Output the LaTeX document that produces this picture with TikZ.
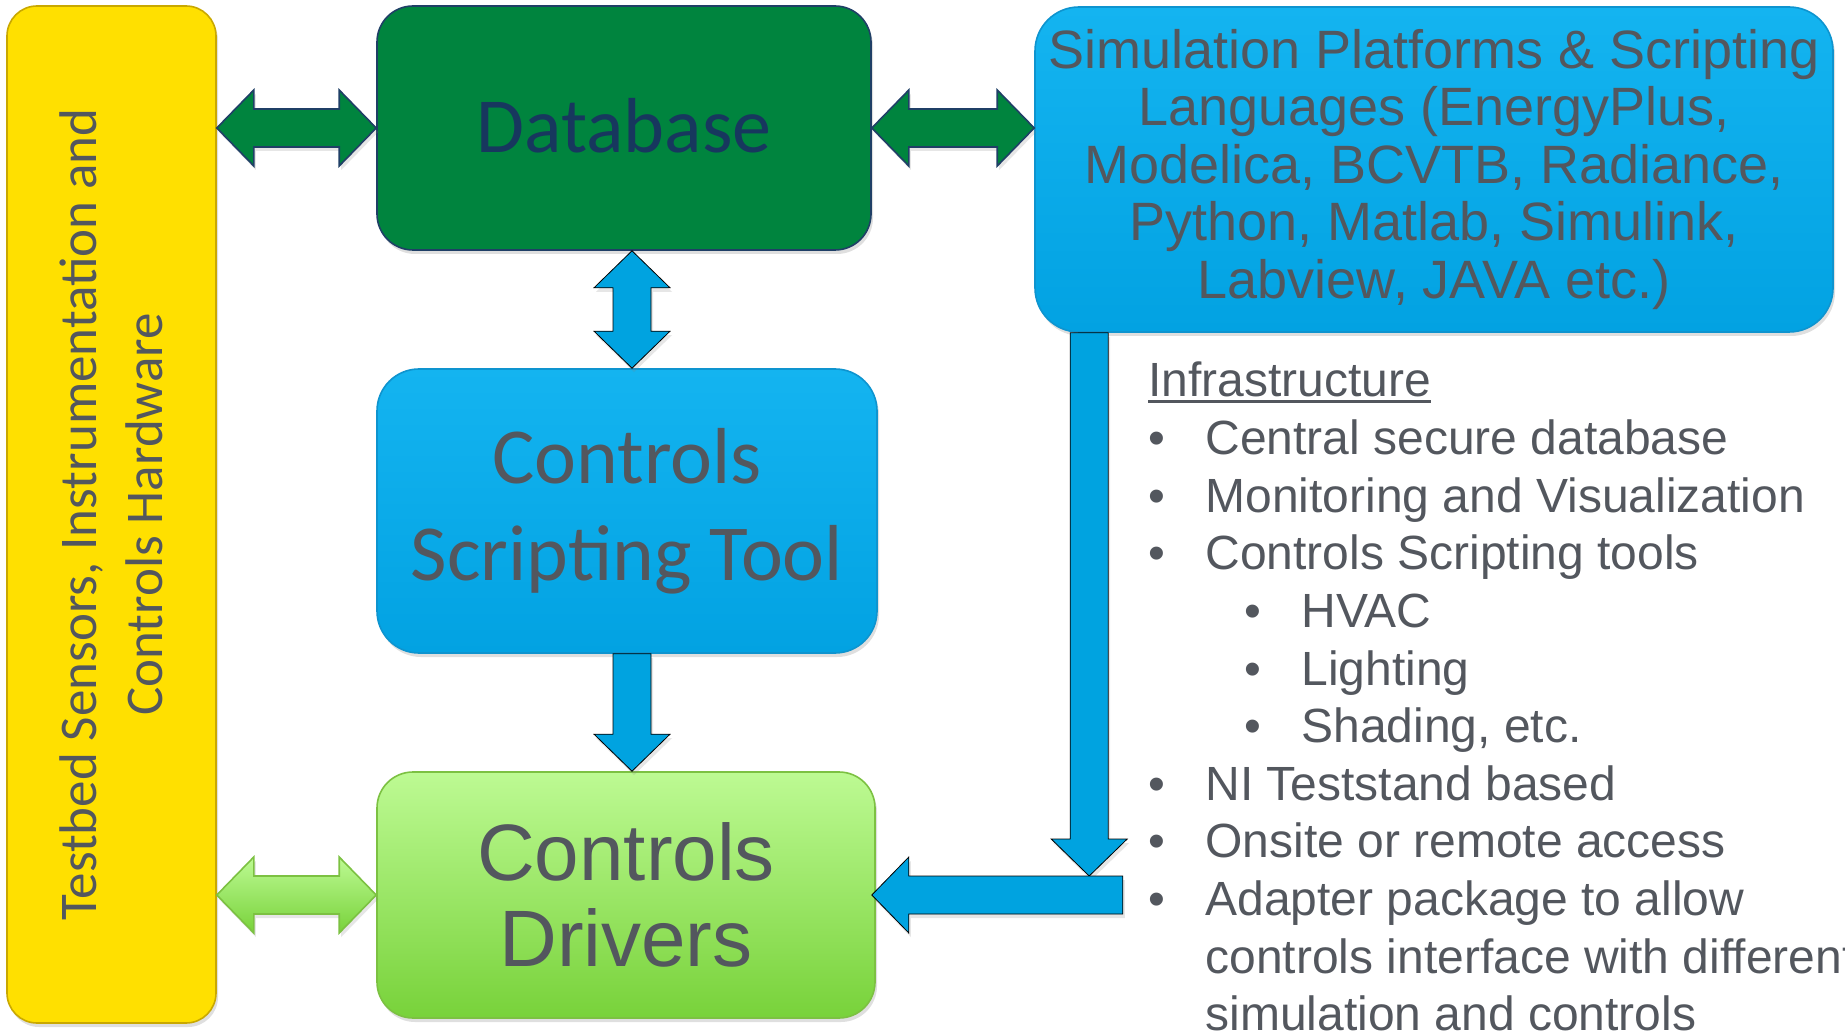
\documentclass[tikz,border=0pt]{standalone}
\usepackage{fontspec}
\setmainfont{Liberation Sans}
\newfontfamily\calibri{Carlito}
\usepackage{tikz}
\usetikzlibrary{calc,shadows}
\definecolor{txtgray}{HTML}{53575E}
\definecolor{dbgreen}{HTML}{00843E}
\definecolor{dbnavy}{HTML}{1F3F66}
\definecolor{dbtext}{HTML}{17375E}
\definecolor{skytop}{HTML}{14B4F0}
\definecolor{skybot}{HTML}{02A2E2}
\definecolor{skyedge}{HTML}{0E94CF}
\definecolor{arrowblue}{HTML}{00A3E0}
\definecolor{testyellow}{HTML}{FFE000}
\definecolor{yelledge}{HTML}{C9A800}
\definecolor{limetop}{HTML}{BDFA93}
\definecolor{limebot}{HTML}{78D23A}
\definecolor{limeedge}{HTML}{7CC142}

\tikzset{
  box/.style={rounded corners=18pt, line width=0.8pt, inner sep=0pt,
    text=txtgray, drop shadow={opacity=0.25, shadow xshift=1pt, shadow yshift=-2pt}},
  grnarrow/.style={fill=dbgreen, draw=dbnavy, line width=0.8pt,
    drop shadow={opacity=0.2, shadow xshift=1pt, shadow yshift=-2pt}},
  limearrow/.style={top color=limetop, bottom color=limebot, draw=limeedge, line width=0.8pt,
    drop shadow={opacity=0.2, shadow xshift=1pt, shadow yshift=-2pt}},
  bluearrow/.style={fill=arrowblue,
    drop shadow={opacity=0.2, shadow xshift=1pt, shadow yshift=-2pt}},
  item/.style={anchor=base west, inner sep=0pt, text=txtgray,
    font=\fontsize{24}{28.8}\selectfont}
}

\begin{document}
\begin{tikzpicture}[x=0.5pt, y=-0.5pt]

  \useasboundingbox (0,0) rectangle (1845,1031);
  \clip (0,0) rectangle (1845,1031);

  \newcommand\AW{19}   % half shaft
  \newcommand\AH{38}   % half head
  \newcommand\AL{37}   % head length
  \newcommand\LS{57.6} % list line step

  \newcommand\blkdbh[3]{\draw[#1] (#2) -- ++(\AL,-\AH) -- ++(0,\AH-\AW)
    -- ($(#3)+(-\AL,-\AW)$) -- ++(0,\AW-\AH) -- (#3) -- ++(-\AL,\AH)
    -- ++(0,\AW-\AH) -- ($(#2)+(\AL,\AW)$) -- ++(0,\AH-\AW) -- cycle;}
  \newcommand\blkdbv[3]{\draw[#1] (#2) -- ++(\AH,\AL) -- ++(\AW-\AH,0)
    -- ($(#3)+(\AW,-\AL)$) -- ++(\AH-\AW,0) -- (#3) -- ++(-\AH,-\AL)
    -- ++(\AH-\AW,0) -- ($(#2)+(-\AW,\AL)$) -- ++(\AW-\AH,0) -- cycle;}
  \newcommand\blkdown[3]{\draw[#1] ($(#2)+(-\AW,0)$) -- ($(#3)+(-\AW,-\AL)$)
    -- ++(\AW-\AH,0) -- (#3) -- ++(\AH,-\AL) -- ++(\AW-\AH,0)
    -- ($(#2)+(\AW,0)$) -- cycle;}
  \newcommand\blkleft[3]{\draw[#1] ($(#2)+(0,-\AW)$) -- ($(#3)+(\AL,-\AW)$)
    -- ++(0,\AW-\AH) -- (#3) -- ++(\AL,\AH) -- ++(0,\AW-\AH)
    -- ($(#2)+(0,\AW)$) -- cycle;}

  \newcommand\bul{\makebox[28.5pt][l]{\textbullet}}
  \newcommand\sbul{\hspace*{48pt}\bul}
  \newcommand\ulined[1]{\setbox0\hbox{#1}\rlap{\rule[-2.8pt]{\wd0}{1.4pt}}\box0}

  %% boxes
  \node[box, draw=yelledge, fill=testyellow, rotate=90, rounded corners=15pt,
    minimum width=508.5pt, minimum height=104.5pt, align=center,
    font=\calibri\fontsize{26.5}{33}\selectfont] (tb) at (111.5,514.5)
    {Testbed Sensors, Instrumentation and\\Controls Hardware};

  \node[box, draw=dbnavy, fill=dbgreen, minimum width=247pt, minimum height=122pt,
    text=dbtext, font=\calibri\fontsize{39}{47}\selectfont] (db) at (624,128)
    {\raisebox{2.5pt}{Database}};

  \node[box, rounded corners=22pt, draw=skyedge, top color=skytop, bottom color=skybot,
    minimum width=399pt, minimum height=162.5pt, align=center,
    font=\fontsize{27}{28.75}\selectfont] (sim) at (1434,169.5)
    {Simulation Platforms \& Scripting\\Languages (EnergyPlus,\\Modelica, BCVTB, Radiance,\\Python, Matlab, Simulink,\\Labview, JAVA etc.)};

  \node[box, rounded corners=21pt, draw=skyedge, top color=skytop, bottom color=skybot,
    minimum width=250pt, minimum height=142pt, align=center,
    font=\calibri\fontsize{39.7}{48.5}\selectfont] (cst) at (627,511)
    {Controls\\Scripting Tool};

  \node[box, draw=limeedge, top color=limetop, bottom color=limebot,
    minimum width=249pt, minimum height=123pt, align=center,
    font=\fontsize{40}{43}\selectfont] (drv) at (626,895)
    {Controls\\Drivers};

  %% connectors
  \coordinate (dbout) at ($(db.south)+(8,0)$);
  \coordinate (cstin) at (dbout |- cst.north);
  \coordinate (cstout) at (dbout |- cst.south);
  \coordinate (drvin) at (dbout |- drv.north);
  \coordinate (simout) at ($(sim.south west)+(55,0)$);
  \coordinate (bend) at ($(drv.east)+(247,0)$);
  \coordinate (drop) at ($(simout |- bend)+(0,-\AW)$);
  \coordinate (drvtip) at ($(drv.east)+(-4,0)$);

  \blkdbh{grnarrow}{tb.south |- db}{db.west}
  \blkdbh{grnarrow}{db.east}{sim.west |- db.east}
  \blkdbh{limearrow}{tb.south |- drv}{drv.west}
  \blkdbv{bluearrow}{dbout}{cstin}
  \blkdown{bluearrow}{cstout}{drvin}
  \blkdown{bluearrow}{simout}{drop}
  \blkleft{bluearrow}{bend}{drvtip}

  %% infrastructure list
  \node[item] (infra) at (1148,397) {\ulined{Infrastructure}};
  \node[item] (itdb) at (1148,397+\LS) {\bul Central secure database};
  \node[item] (itmon) at (1148,397+2*\LS) {\bul Monitoring and Visualization};
  \node[item] (itcst) at (1148,397+3*\LS) {\bul Controls Scripting tools};
  \node[item] (ithvac) at (1148,397+4*\LS) {\sbul HVAC};
  \node[item] (itlight) at (1148,397+5*\LS) {\sbul Lighting};
  \node[item] (itshade) at (1148,397+6*\LS) {\sbul Shading, etc.};
  \node[item] (itni) at (1148,397+7*\LS) {\bul NI Teststand based};
  \node[item] (itsite) at (1148,397+8*\LS) {\bul Onsite or remote access};
  \node[item] (itadapt) at (1148,397+9*\LS) {\bul Adapter package to allow};
  \node[item] (itadapt2) at (1148,397+10*\LS) {\hspace*{28.5pt}controls interface with different};
  \node[item] (itadapt3) at (1148,397+11*\LS) {\hspace*{28.5pt}simulation and controls};

\end{tikzpicture}
\end{document}
